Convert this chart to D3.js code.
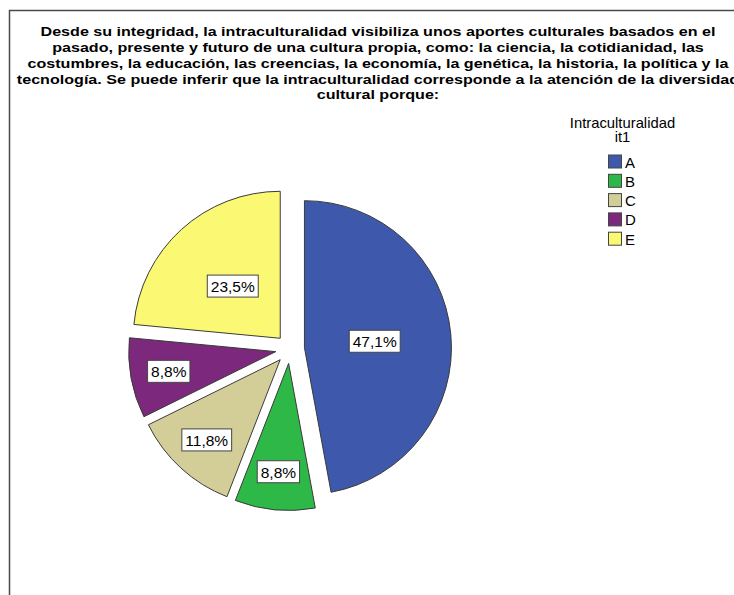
<!DOCTYPE html>
<html>
<head>
<meta charset="utf-8">
<script src="https://cdn.jsdelivr.net/npm/d3@7"></script>
<style>
  html, body { margin: 0; padding: 0; background: #fff; }
  svg { display: block; }
  text { font-family: "Liberation Sans", Arial, sans-serif; }
</style>
</head>
<body>
<svg id="chart" width="734" height="595"></svg>
<script>
// Chart content
const titleLines = [
  "Desde su integridad, la intraculturalidad visibiliza unos aportes culturales basados en el",
  "pasado, presente y futuro de una cultura propia, como: la ciencia, la cotidianidad, las",
  "costumbres, la educación, las creencias, la economía, la genética, la historia, la política y la",
  "tecnología. Se puede inferir que la intraculturalidad corresponde a la atención de la diversidad",
  "cultural porque:"
];
const legendTitle = ["Intraculturalidad", "it1"];
const categories = ["A", "B", "C", "D", "E"];
const percents = [47.1, 8.8, 11.8, 8.8, 23.5];
const colors = ["#3E58AC", "#2EB848", "#D3CE97", "#7C287D", "#FBF873"];

const svg = d3.select("#chart");

// Outer frame (left and top edges visible)
svg.append("path")
  .attr("d", "M9.5,595 L9.5,10.5 L734,10.5")
  .attr("fill", "none")
  .attr("stroke", "#4a4a4a")
  .attr("stroke-width", 1.5);

// Title: fixed glyph height, horizontally scaled so the first line spans 675px
const titleCx = 378, titleSize = 13.6;
const probe = svg.append("text")
  .attr("font-size", titleSize).attr("font-weight", "bold")
  .text(titleLines[0]);
const sx = 675 / probe.node().getComputedTextLength();
probe.remove();

svg.append("g")
  .attr("transform", `scale(${sx},1)`)
  .selectAll("text")
  .data(titleLines)
  .join("text")
  .attr("x", titleCx / sx)
  .attr("y", (d, i) => 36.5 + i * 15.7)
  .attr("text-anchor", "middle")
  .attr("font-weight", "bold")
  .attr("font-size", titleSize)
  .attr("fill", "#000")
  .text(d => d);

// Pie
const cx = 290, cy = 349, R = 147, explode = 14.5;
const pie = d3.pie().sort(null).value(d => d)(percents);
const arc = d3.arc().innerRadius(0).outerRadius(R);

const g = svg.append("g").attr("transform", `translate(${cx},${cy})`);

const slices = g.selectAll("g.slice")
  .data(pie)
  .join("g")
  .attr("class", "slice")
  .attr("transform", d => {
    const a = (d.startAngle + d.endAngle) / 2;
    return `translate(${explode * Math.sin(a)},${-explode * Math.cos(a)})`;
  });

slices.append("path")
  .attr("d", arc)
  .attr("fill", (d, i) => colors[i])
  .attr("stroke", "#3a3a3a")
  .attr("stroke-width", 1);

// Value labels in white boxes; narrow slices get their label further out
const fmt = v => d3.format(".1f")(v).replace(".", ",") + "%";
slices.each(function (d) {
  const sel = d3.select(this);
  const a = (d.startAngle + d.endAngle) / 2;
  const span = d.endAngle - d.startAngle;
  const rr = R * (span > Math.PI / 3 ? 0.48 : 0.74);
  const x = rr * Math.sin(a), y = -rr * Math.cos(a);
  const t = sel.append("text")
    .attr("x", x).attr("y", y + 5.8)
    .attr("text-anchor", "middle")
    .attr("font-size", 15.5)
    .attr("fill", "#000")
    .text(fmt(d.data));
  const tw = t.node().getComputedTextLength();
  sel.insert("rect", "text")
    .attr("x", x - tw / 2 - 3.5)
    .attr("y", y - 11)
    .attr("width", tw + 7)
    .attr("height", 22)
    .attr("fill", "#fff")
    .attr("stroke", "#444")
    .attr("stroke-width", 1);
});

// Legend
const lg = svg.append("g");
lg.selectAll("text.lt")
  .data(legendTitle)
  .join("text")
  .attr("class", "lt")
  .attr("x", 622.5)
  .attr("y", (d, i) => 127.5 + i * 14.5)
  .attr("text-anchor", "middle")
  .attr("font-size", 14.8)
  .attr("fill", "#000")
  .text(d => d);

const items = lg.selectAll("g.item")
  .data(categories)
  .join("g")
  .attr("class", "item")
  .attr("transform", (d, i) => `translate(608.5,${155 + i * 19.3})`);

items.append("rect")
  .attr("width", 13).attr("height", 13)
  .attr("fill", (d, i) => colors[i])
  .attr("stroke", "#444")
  .attr("stroke-width", 1);

items.append("text")
  .attr("x", 16.5).attr("y", 12.5)
  .attr("font-size", 15)
  .attr("fill", "#000")
  .text(d => d);
</script>
</body>
</html>
